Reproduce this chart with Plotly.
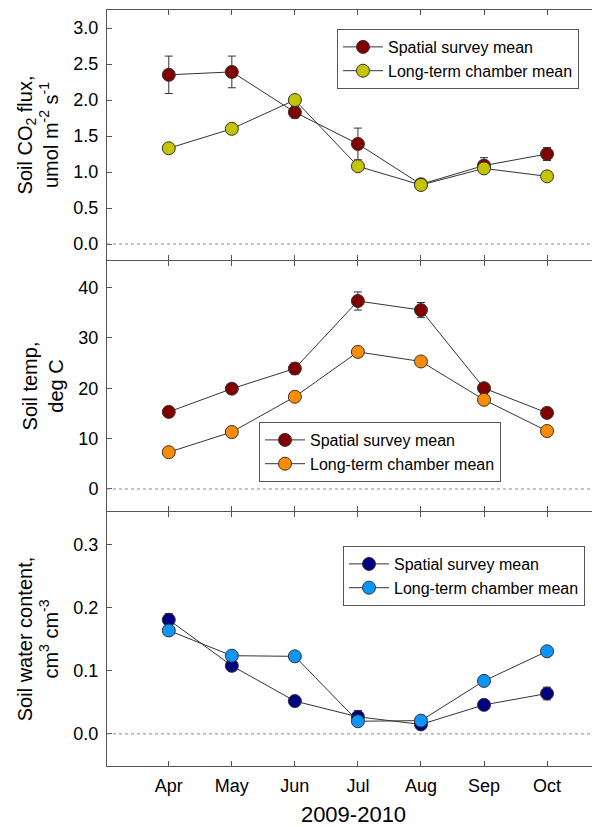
import plotly.graph_objects as go

months = ["Apr", "May", "Jun", "Jul", "Aug", "Sep", "Oct"]

co2_spatial = [2.35, 2.39, 1.83, 1.39, 0.83, 1.09, 1.25]
co2_spatial_err = [0.26, 0.22, 0.08, 0.22, 0.06, 0.11, 0.09]
co2_chamber = [1.33, 1.60, 2.00, 1.08, 0.82, 1.05, 0.94]

temp_spatial = [15.3, 19.9, 23.9, 37.3, 35.5, 20.0, 15.1]
temp_spatial_err = [0.9, 0.9, 1.1, 1.8, 1.5, 0.6, 0.6]
temp_chamber = [7.3, 11.3, 18.3, 27.2, 25.3, 17.7, 11.5]

water_spatial = [0.181, 0.108, 0.052, 0.027, 0.015, 0.046, 0.064]
water_spatial_err = [0.010, 0.008, 0.004, 0.010, 0.007, 0.004, 0.010]
water_chamber = [0.164, 0.124, 0.123, 0.020, 0.021, 0.084, 0.131]

name_spatial = "Spatial survey mean"
name_chamber = "Long-term chamber mean"

FONT = "Liberation Sans, Arial, sans-serif"
AX = "#555555"
LINE = "#333333"

panels = [
    dict(sp=co2_spatial, err=co2_spatial_err, ch=co2_chamber,
         c_sp="#800000", c_ch="#c4c400", leg="legend"),
    dict(sp=temp_spatial, err=temp_spatial_err, ch=temp_chamber,
         c_sp="#800000", c_ch="#ff8c00", leg="legend2"),
    dict(sp=water_spatial, err=water_spatial_err, ch=water_chamber,
         c_sp="#000080", c_ch="#0a96ff", leg="legend3"),
]

fig = go.Figure()
for i, p in enumerate(panels):
    sfx = "" if i == 0 else str(i + 1)
    fig.add_trace(go.Scatter(
        x=months, y=p["sp"], name=name_spatial, mode="lines+markers",
        xaxis="x" + sfx, yaxis="y" + sfx, legend=p["leg"],
        line=dict(color=LINE, width=1),
        marker=dict(size=13, color=p["c_sp"], line=dict(color="#333333", width=1)),
        error_y=dict(type="data", array=p["err"], color="#333333", thickness=1, width=4),
    ))
    fig.add_trace(go.Scatter(
        x=months, y=p["ch"], name=name_chamber, mode="lines+markers",
        xaxis="x" + sfx, yaxis="y" + sfx, legend=p["leg"],
        line=dict(color=LINE, width=1),
        marker=dict(size=13, color=p["c_ch"], line=dict(color="#333333", width=1)),
    ))

# page has an 8px body margin: figure is 592x819, plot area page x 107..600, y 10..766
H = 756.0
W = 493.0
doms = [[(766 - 260) / H, 1.0], [(766 - 511) / H, (766 - 261) / H], [0.0, (766 - 512) / H]]
yranges = [[-0.222, 3.25], [-4.37, 45.24], [-0.051, 0.352]]
ydtick = [0.5, 10, 0.1]
ytitles = [
    "Soil CO<sub>2</sub> flux,<br>umol m<sup>-2</sup> s<sup>-1</sup>",
    "Soil temp,<br>deg C",
    "Soil water content,<br>cm<sup>3</sup> cm<sup>-3</sup>",
]
ytickfmt = [".1f", "d", ".1f"]

layout = dict(
    width=592, height=819,
    margin=dict(l=99, r=0, t=2, b=61, pad=0, autoexpand=False),
    paper_bgcolor="white", plot_bgcolor="white",
    font=dict(family=FONT, size=16, color="black"),
    showlegend=True,
)
for i in range(3):
    sfx = "" if i == 0 else str(i + 1)
    layout["xaxis" + sfx] = dict(
        domain=[0, 1], anchor="y" + sfx, type="category",
        range=[-0.98, 6.84], automargin=False,
        showline=True, linecolor=AX, linewidth=1, mirror="ticks",
        ticks="inside", ticklen=5, tickcolor=AX,
        showgrid=False, zeroline=False,
        showticklabels=(i == 2),
        tickfont=dict(size=18),
    )
    layout["yaxis" + sfx] = dict(
        domain=doms[i], anchor="x" + sfx, range=yranges[i],
        dtick=ydtick[i], tick0=0, tickformat=ytickfmt[i], automargin=False,
        showline=True, linecolor=AX, linewidth=1, mirror=False,
        ticks="inside", ticklen=5, tickcolor=AX,
        showgrid=False, zeroline=False,
        tickfont=dict(size=18), ticklabelstandoff=4,
        title=dict(text=ytitles[i], font=dict(size=20), standoff=9),
    )
layout["xaxis3"]["title"] = dict(text="2009-2010", font=dict(size=22), standoff=14)
layout["xaxis3"]["ticklabelstandoff"] = 3

leg_common = dict(
    bgcolor="white", bordercolor="#555555", borderwidth=1,
    font=dict(family=FONT, size=16, color="black"),
    xanchor="left", yanchor="top", tracegroupgap=0,
    itemwidth=40,
)
layout["legend"] = dict(leg_common, x=(337 - 107) / W, y=(766 - 29) / H)
layout["legend2"] = dict(leg_common, x=(259 - 107) / W, y=(766 - 422) / H)
layout["legend3"] = dict(leg_common, x=(343 - 107) / W, y=(766 - 546) / H)

shapes = []
for i in range(3):
    sfx = "" if i == 0 else str(i + 1)
    shapes.append(dict(type="line", xref="x" + sfx + " domain", yref="y" + sfx,
                       x0=0, x1=1, y0=0, y1=0,
                       line=dict(color="#888888", width=1, dash="dot")))
layout["shapes"] = shapes

fig.update_layout(**layout)
fig.write_html("out.html")
